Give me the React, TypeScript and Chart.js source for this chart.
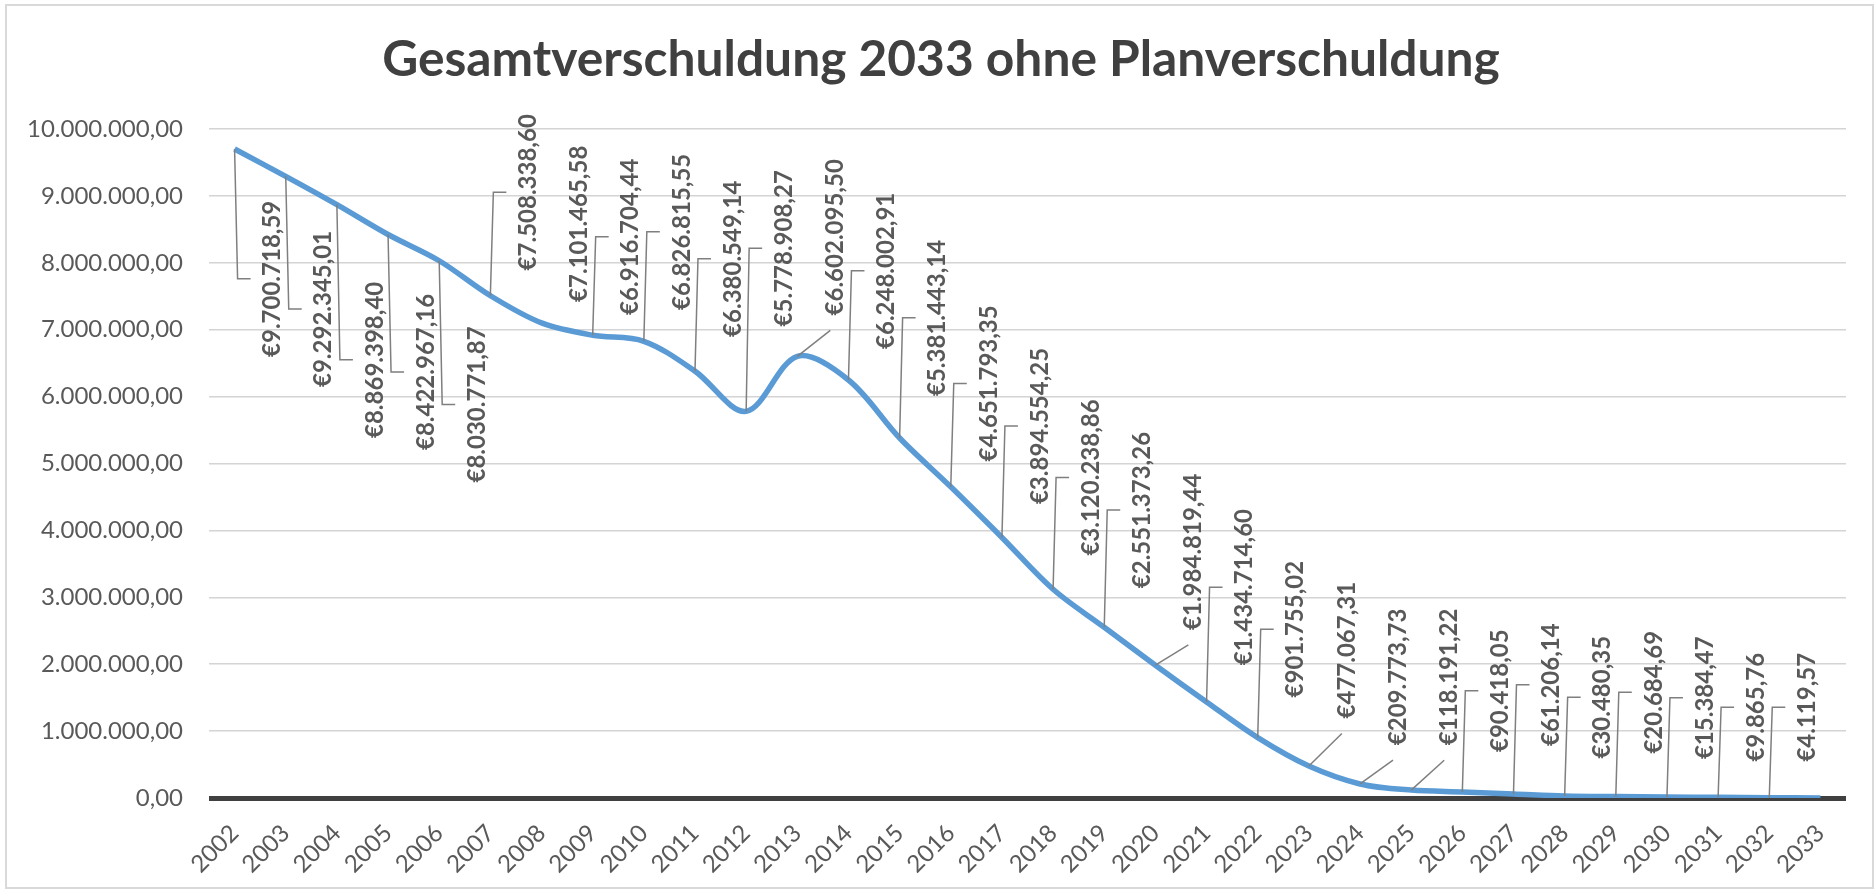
import React, { useEffect, useRef } from "react";
import { Chart, registerables } from "chart.js";

Chart.register(...registerables);

const TITLE = "Gesamtverschuldung 2033 ohne Planverschuldung";

const years = [
  "2002", "2003", "2004", "2005", "2006", "2007", "2008", "2009", "2010", "2011",
  "2012", "2013", "2014", "2015", "2016", "2017", "2018", "2019", "2020", "2021",
  "2022", "2023", "2024", "2025", "2026", "2027", "2028", "2029", "2030", "2031",
  "2032", "2033",
];

const debt = [
  9700718.59, 9292345.01, 8869398.4, 8422967.16, 8030771.87, 7508338.6, 7101465.58,
  6916704.44, 6826815.55, 6380549.14, 5778908.27, 6602095.5, 6248002.91, 5381443.14,
  4651793.35, 3894554.25, 3120238.86, 2551373.26, 1984819.44, 1434714.6, 901755.02,
  477067.31, 209773.73, 118191.22, 90418.05, 61206.14, 30480.35, 20684.69, 15384.47,
  9865.76, 4119.57, 0,
];

// level (axis units) at which each data label is centred; null = no label
const labelLevels: (number | null)[] = [
  7760000, 7311000, 6549000, 6369000, 5883000, 9054000, 8583000, 8389000, 8463000,
  8060000, 8217000, 8381000, 7880000, 7177000, 6197000, 5561000, 4791000, 4304000,
  3680000, 3152000, 2524000, 2210000, 1810000, 1810000, 1604000, 1694000, 1507000,
  1581000, 1499000, 1357000, 1357000, null,
];

// leader line kind per label
const leaderKinds: string[] = [
  "elbow", "elbow", "elbow", "elbow", "elbow", "elbow", "none", "elbow", "elbow", "elbow",
  "elbow", "diag", "elbow", "elbow", "elbow", "elbow", "elbow", "elbow", "diag", "elbow",
  "elbow", "diag", "diag", "diag", "elbow", "elbow", "elbow", "elbow", "elbow", "elbow",
  "elbow", "none",
];

const yMin = 0;
const yMax = 10000000;
const yStep = 1000000;

function fmtDE(v: number): string {
  const neg = v < 0;
  const [i, d] = Math.abs(v).toFixed(2).split(".");
  const grouped = i.replace(/\B(?=(\d{3})+(?!\d))/g, ".");
  return (neg ? "-" : "") + grouped + "," + d;
}

const FONT = "Lato, 'Open Sans', sans-serif";

const decorPlugin = {
  id: "decor",
  beforeDraw(chart: any) {
    const ctx = chart.ctx as CanvasRenderingContext2D;
    ctx.save();
    ctx.fillStyle = "#ffffff";
    ctx.fillRect(0, 0, chart.width, chart.height);
    ctx.strokeStyle = "#d9d9d9";
    ctx.lineWidth = 2;
    ctx.strokeRect(6, 5, 1867, 883);
    // title, fitted to the reference width
    let size = 44;
    ctx.font = `bold ${size}px ${FONT}`;
    const w = ctx.measureText(TITLE).width;
    size = Math.max(30, Math.min(56, (size * 1118) / w));
    ctx.font = `bold ${size}px ${FONT}`;
    ctx.fillStyle = "#404040";
    ctx.textAlign = "center";
    ctx.textBaseline = "alphabetic";
    ctx.fillText(TITLE, 941, 76);
    ctx.restore();
  },
  afterDatasetsDraw(chart: any) {
    const ctx = chart.ctx as CanvasRenderingContext2D;
    const xs = chart.scales.x;
    const ys = chart.scales.y;
    ctx.save();
    ctx.font = `bold 24px ${FONT}`;
    for (let i = 0; i < debt.length; i++) {
      const lvl = labelLevels[i];
      if (lvl === null) continue;
      const text = "€" + fmtDE(debt[i]);
      const px = xs.getPixelForValue(i);
      const py = ys.getPixelForValue(debt[i]);
      const cx = px + 38;
      const cy = ys.getPixelForValue(lvl);
      const tw = ctx.measureText(text).width;
      const kind = leaderKinds[i];
      ctx.strokeStyle = "#7f7f7f";
      ctx.lineWidth = 1.5;
      if (kind === "elbow") {
        ctx.beginPath();
        ctx.moveTo(px, py);
        ctx.lineTo(px + 3, cy);
        ctx.lineTo(px + 16, cy);
        ctx.stroke();
      } else if (kind === "diag") {
        ctx.beginPath();
        ctx.moveTo(px, py);
        ctx.lineTo(cx - 5, cy + tw / 2 + 15);
        ctx.stroke();
      }
      ctx.save();
      ctx.translate(cx, cy);
      ctx.rotate(-Math.PI / 2);
      ctx.fillStyle = "#595959";
      ctx.textAlign = "center";
      ctx.textBaseline = "middle";
      ctx.fillText(text, 0, 0);
      ctx.restore();
    }
    ctx.restore();
  },
};

export default function App() {
  const ref = useRef<HTMLCanvasElement | null>(null);

  useEffect(() => {
    if (!ref.current) return;
    const chart = new Chart(ref.current, {
      type: "line",
      data: {
        labels: years,
        datasets: [
          {
            label: "Gesamtverschuldung",
            data: debt,
            borderColor: "#5b9bd5",
            backgroundColor: "#5b9bd5",
            borderWidth: 5.5,
            pointRadius: 0,
            tension: 0.33,
            fill: false,
          },
        ],
      },
      options: {
        animation: false,
        responsive: false,
        maintainAspectRatio: false,
        devicePixelRatio: 1,
        layout: { padding: { top: 129, left: 0, right: 30, bottom: 0 } },
        plugins: {
          legend: { display: false },
          title: { display: false },
          tooltip: { enabled: false },
        },
        scales: {
          x: {
            type: "category",
            offset: true,
            grid: { display: false, drawTicks: false },
            border: { display: false },
            ticks: {
              autoSkip: false,
              minRotation: 45,
              maxRotation: 45,
              padding: 21,
              color: "#595959",
              font: { family: FONT, size: 24 },
            },
            afterFit(scale: any) {
              scale.height = 95;
            },
          },
          y: {
            min: yMin,
            max: yMax,
            grid: {
              drawTicks: false,
              color: (c: any) => (c.tick && c.tick.value === 0 ? "#404040" : "#d4d4d4"),
              lineWidth: (c: any) => (c.tick && c.tick.value === 0 ? 5 : 1.5),
            },
            border: { display: false },
            ticks: {
              stepSize: yStep,
              padding: 26,
              color: "#595959",
              font: { family: FONT, size: 24 },
              callback: (v: any) => fmtDE(Number(v)),
            },
            afterFit(scale: any) {
              scale.width = 209;
            },
          },
        },
      },
      plugins: [decorPlugin],
    });
    return () => chart.destroy();
  }, []);

  return (
    <div style={{ position: "absolute", left: 0, top: 0, width: 1876, height: 893 }}>
      <canvas ref={ref} width={1876} height={893} style={{ display: "block" }} />
    </div>
  );
}
